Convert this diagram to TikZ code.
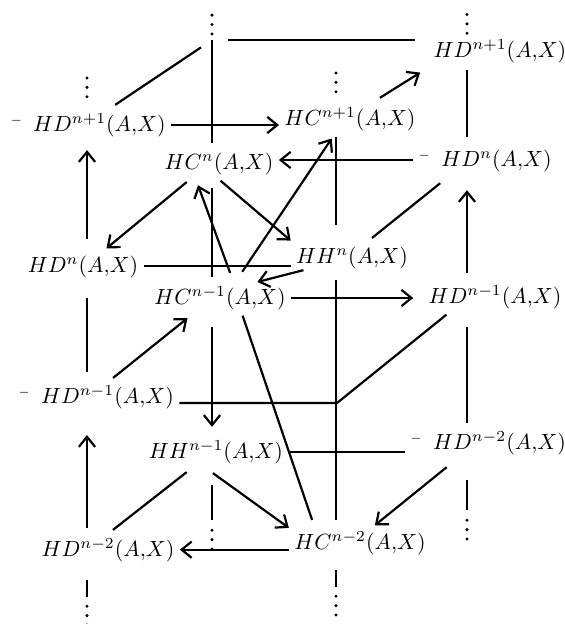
\documentclass[tikz,border=0pt]{standalone}
\usepackage{amsmath,amssymb}
\usepackage{tikz}
\usetikzlibrary{arrows.meta}
\newcommand{\mneg}{{}^{\scriptscriptstyle -}\hspace{4.5pt}}
\newcommand{\AX}{(A{,}X)}
\tikzset{
  term/.style={inner sep=2pt, text height=8.6pt, text depth=2.5pt},
  arr/.style={-{Straight Barb[length=1.6mm,width=2.6mm]}},
  dotcol/.style={line width=1.5pt, line cap=round, dash pattern=on 0pt off 4.3pt},
}

\begin{document}
\begin{tikzpicture}[x=0.016cm, y=-0.016cm, line width=1pt]
\useasboundingbox (0,0) rectangle (565,624);
\coordinate (colA) at (87,0);
\coordinate (colB) at (212,0);
\coordinate (colC) at (336,0);
\coordinate (colD) at (467,0);
\coordinate (topc) at (212,40);
\coordinate (knee) at (337,403);

\node[term] (dnp1)  at (500,51)  {$HD^{n+1}\AX$};
\node[term] (mdnp1) at (88,125)  {$\mneg HD^{n+1}\AX$};
\node[term] (hcnp1) at (350,119) {$HC^{n+1}\AX$};
\node[term] (hcn)   at (219,163) {$HC^{n}\AX$};
\node[term] (mdn)   at (485,160) {$\mneg HD^{n}\AX$};
\node[term] (dn)    at (83,266)  {$HD^{n}\AX$};
\node[term] (hhn)   at (352,257) {$HH^{n}\AX$};
\node[term] (hcnm1) at (220,298) {$HC^{n-1}\AX$};
\node[term] (dnm1)  at (495,297) {$HD^{n-1}\AX$};
\node[term] (mdnm1) at (96,397)  {$\mneg HD^{n-1}\AX$};
\node[term] (hhnm1) at (216,452) {$HH^{n-1}\AX$};
\node[term] (mdnm2) at (488,443) {$\mneg HD^{n-2}\AX$};
\node[term] (dnm2)  at (108,550) {$HD^{n-2}\AX$};
\node[term] (hcnm2) at (360,543) {$HC^{n-2}\AX$};

\draw[dotcol] (mdnp1.north -| colA) ++(0,-10.5) -- ++(0,-28);
\draw[dotcol] (topc) ++(0,-6) -- ++(0,-20);
\draw[dotcol] (hcnp1.north -| colC) ++(0,-9.5) -- ++(0,-28);
\draw[dotcol] (dnp1.north -| colD) -- ++(0,-20);
\draw (hhnm1.south -| colB) ++(0,15.5) -- ++(0,35) coordinate (tailB);
\draw[dotcol] (tailB) ++(0,10) -- ++(0,22);
\draw (mdnm2.south -| colD) ++(0,19.5) -- ++(0,30) coordinate (tailD);
\draw[dotcol] (tailD) ++(0,10) -- ++(0,22);
\draw (hcnm2.south -| colC) ++(0,9.5) -- ++(0,17) coordinate (tailC);
\draw[dotcol] (tailC) ++(0,9) -- ++(0,20);
\draw (dnm2.south -| colA) ++(0,12.5) -- ++(0,17) coordinate (tailA);
\draw[dotcol] (tailA) ++(0,9) -- ++(0,20);

\draw[arr, shorten <=4.3pt, shorten >=3.4pt] (dn.north -| colA) -- (mdnp1.south -| colA);
\draw[shorten <=6.6pt, shorten >=3.4pt] (dn.south -| colA) -- (mdnm1.north -| colA);
\draw[arr, shorten <=2pt, shorten >=9.3pt] (dnm2.north -| colA) -- (mdnm1.south -| colA);
\draw[shorten >=1pt] (topc) -- (hcn.north -| topc);
\draw[shorten <=3.4pt, shorten >=1.5pt] (hcn.south -| colB) -- (hcnm1.north -| colB);
\draw[arr, shorten <=5.2pt, shorten >=3.4pt] (hcnm1.south -| colB) -- (hhnm1.north -| colB);
\draw[shorten <=6.6pt] (hhn.north -| colC) -- (hcnp1.south -| colC);
\draw[shorten <=2.5pt, shorten >=2.5pt] (hhn.south -| colC) -- (hcnm2.north -| colC);
\draw[shorten <=0.7pt, shorten >=2.5pt] (dnp1.south -| colD) -- (mdn.north -| colD);
\draw[arr, shorten <=3pt, shorten >=5.7pt] (dnm1.north -| colD) -- (mdn.south -| colD);
\draw[shorten <=5.7pt, shorten >=1pt] (dnm1.south -| colD) -- (mdnm2.north -| colD);

\draw[shorten <=7.3pt, shorten >=6pt] (topc) -- (topc -| dnp1.west);
\draw[arr] (mdnp1.east) -- (mdnp1.east -| hcnp1.west);
\draw[arr] (mdn.west) -- (mdn.west -| hcn.east);
\draw (dn.east) -- (dn.east -| hhn.west);
\draw[arr, shorten >=4.5pt] (hcnm1.east) -- (hcnm1.east -| dnm1.west);
\draw (mdnm1.east |- knee) -- (knee) -- (dnm1.200);
\draw (hhnm1.east) -- (hhnm1.east -| mdnm2.west);
\draw[arr] (hcnm2.base west) -- (hcnm2.base west -| dnm2.east);

\draw[shorten <=2pt, shorten >=6pt] (mdnp1.37) -- (topc);
\draw[arr, shorten <=3pt, shorten >=4.3pt] (hcnp1.36) -- (dnp1.193);
\draw[shorten <=4pt, shorten >=1pt] (mdn.205) -- (hhn.44);
\draw[arr, shorten <=1pt] (hcn.210) -- (dn.37);
\draw[arr] (hcn.275) -- (hhn.165);
\draw[arr, shorten <=3.6pt, shorten >=2.2pt] (hcnm1.54) -- (hcn.218);
\draw[arr, shorten <=4.7pt, shorten >=1pt] (hcnm1.47) -- (hcnp1.226);
\draw[arr, shorten <=-6pt, shorten >=-3pt] (hhn.195) -- (hcnm1.22);
\draw[arr, shorten <=1pt, shorten >=1.8pt] (mdnm1.49) -- (hcnm1.211);
\draw[shorten >=2.6pt] (hcnm1.322) -- (hcnm2.159);
\draw[arr, shorten <=2.7pt] (hhnm1.246) -- (hcnm2.168);
\draw[shorten <=1.8pt, shorten >=1.8pt] (hhnm1.214) -- (dnm2.84);
\draw[arr, shorten <=4.7pt] (mdnm2.208) -- (hcnm2.50);
\end{tikzpicture}
\end{document}
